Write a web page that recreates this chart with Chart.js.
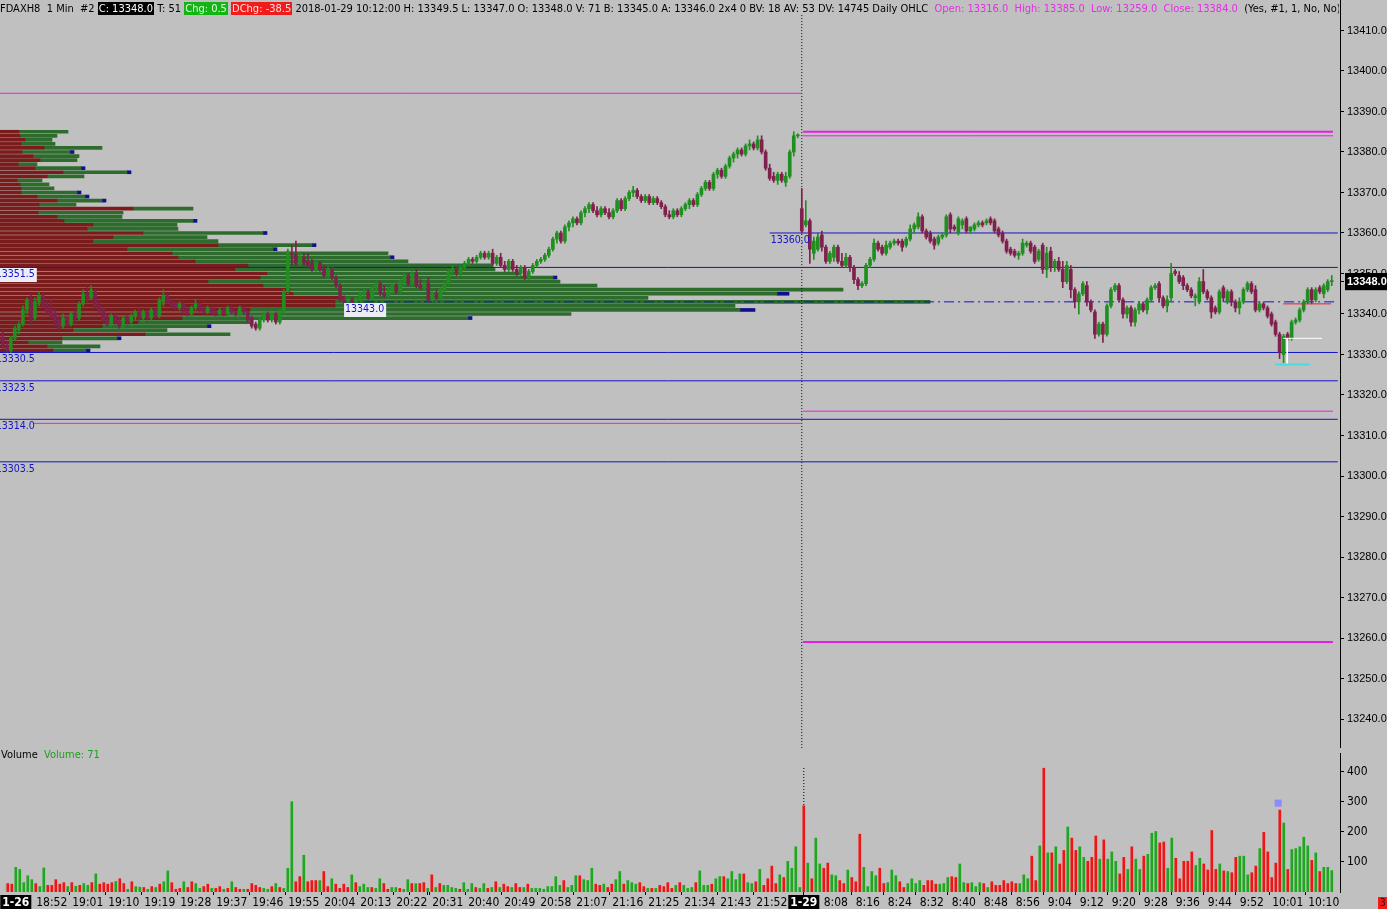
<!DOCTYPE html>
<html>
<head>
<meta charset="utf-8">
<script src="https://cdn.jsdelivr.net/npm/chart.js@4.4.1/dist/chart.umd.min.js"></script>
<style>
  html, body { margin: 0; padding: 0; background: #c0c0c0; width: 1387px; height: 909px; overflow: hidden; position: relative; }
  canvas { position: absolute; left: 0; }
  #profile { top: 0; z-index: 1; }
  #price { top: 0; z-index: 2; }
  #volume { top: 748px; z-index: 2; }
  .txt { position: absolute; z-index: 3; white-space: pre; font: 11px 'Liberation Sans Narrow', 'DejaVu Sans Condensed', sans-serif; line-height: 14px; color: #000; }
  #head { left: 0; top: 2px; width: 1339px; overflow: hidden; }
  #head .k { background: #000; color: #fff; padding: 0 1px; }
  #head .g { background: #14b414; color: #dfffdf; padding: 0 1px; }
  #head .r { background: #f01c1c; color: #ffe0e0; padding: 0 1px; }
  #head .m { color: #e62ee6; }
  #vlabel { left: 1px; top: 748px; }
  #vlabel .g { color: #1e9e1e; }
  #corner { left: 1378px; top: 897px; width: 9px; height: 12px; background: #f01c1c; color: #400; font-size: 10px; line-height: 12px; text-align: center; }
</style>
</head>
<body>
<canvas id="profile" width="1340" height="748"></canvas>
<canvas id="price" width="1387" height="748"></canvas>
<canvas id="volume" width="1387" height="161"></canvas>
<div id="head" class="txt"></div>
<div id="vlabel" class="txt"></div>
<div id="corner" class="txt">3</div>
<script>
'use strict';

// FDAXH8, barras de 1 minuto: 1-26 18:40 -> 21:59 (0..199), 1-29 8:00 -> 10:12 (200..332)
// [open, high, low, close]
const bars = [
  [13335,13336,13333,13333.5],[13334,13335.5,13331.5,13332],[13332,13333,13330.5,13331],[13331,13334.5,13330.5,13334],
  [13334,13337,13333.5,13336.5],[13336,13338,13335,13337.5],[13337.5,13342,13337,13341],[13341,13344,13340,13343.5],
  [13343.5,13345,13338,13339],[13339,13344,13338.5,13343],[13343,13345.5,13342,13344.5],[13344.5,13345,13341.5,13342],
  [13342,13343,13340,13340.5],[13341,13343.5,13339,13339.5],[13340,13341,13337,13338],[13338.5,13339.5,13336,13336.5],
  [13337,13340,13336.5,13339],[13339,13339.5,13337,13337.5],[13337.5,13340.5,13337,13340],[13340,13341,13338,13339],
  [13339,13343,13338.5,13342.5],[13342.5,13346,13342,13345],[13345,13346.5,13343,13344],[13344,13347,13343.5,13346],
  [13345.5,13346,13341.5,13342],[13342,13343,13340,13341],[13341,13341.5,13338,13338.5],[13338.5,13340,13337,13337.5],
  [13337.5,13340,13337,13339.5],[13339.5,13340,13337.5,13338],[13338,13339,13336.5,13337],[13337,13339.5,13336.5,13339],
  [13339,13339.5,13337.5,13338],[13338,13340,13337,13339.5],[13339.5,13341,13338.5,13340.5],[13340.5,13341.5,13338.5,13339],
  [13339,13341,13338,13340.5],[13340.5,13341,13338.5,13339],[13339,13341.5,13338.5,13341],[13341,13341.5,13339,13339.5],
  [13339.5,13344,13339,13343.5],[13343,13346,13342,13344.5],[13344.5,13345,13342.5,13343],[13343,13343.5,13341.5,13342],
  [13342.5,13343,13341,13341.5],[13341.5,13343,13341,13342.5],[13342.5,13343,13340,13340.5],[13340.5,13341.5,13339.5,13340],
  [13340,13342,13339.5,13341.5],[13341.5,13343.5,13341,13342.5],[13342.5,13343,13340.5,13341],[13341,13342,13340,13340.5],
  [13340.5,13342,13340,13341.5],[13341.5,13342,13340,13340.5],[13340.5,13341.5,13339.5,13340],[13340,13341.5,13339.5,13341],
  [13341,13341.5,13339.5,13340],[13340,13342,13339.5,13341.5],[13341.5,13342,13340,13340.5],[13340.5,13341,13339.5,13340],
  [13340,13342,13339.5,13341.5],[13341.5,13342,13340,13340.5],[13340.5,13341,13338,13338.5],[13339,13339.5,13336.5,13337],
  [13337.5,13338,13336,13336.5],[13336.5,13339,13336,13338.5],[13338.5,13340.5,13338,13340],[13340,13340.5,13338,13338.5],
  [13338.5,13340.5,13338,13340],[13340,13340.5,13337.5,13338],[13338,13341,13337.5,13340.5],[13340.5,13346,13340,13345.5],
  [13345.5,13356,13345,13355.5],[13355,13357,13352,13354.5],[13354.5,13358,13352,13352.5],[13352.5,13355,13352,13354],
  [13354,13355,13352,13352.5],[13353,13355,13351.5,13352],[13352.5,13353.5,13350.5,13351],[13351,13353,13350.5,13352.5],
  [13352.5,13353,13350.5,13351],[13351,13352,13349,13349.5],[13349.5,13351.5,13349,13351],[13351,13351.5,13348.5,13349],
  [13349,13349.5,13346.5,13347],[13347,13347.5,13343,13343.5],[13343.5,13344.5,13342.5,13343],[13343,13344,13342.5,13343.5],
  [13343.5,13344,13342.5,13343],[13343,13344,13342.5,13343.5],[13343.5,13345.5,13343,13345],[13345,13346,13344,13345.5],
  [13345.5,13346,13343.5,13344],[13344,13347,13343.5,13346.5],[13346.5,13348,13345.5,13347.5],[13347.5,13348,13344.5,13345],
  [13345,13347,13344,13344.5],[13344.5,13346.5,13344,13346],[13346,13347.5,13345,13347],[13347,13347.5,13345,13345.5],
  [13345.5,13348.5,13345,13348],[13348,13350,13347,13349.5],[13349.5,13350,13347,13347.5],[13347.5,13350.5,13347,13350],
  [13350,13351,13346.5,13347],[13347,13348.5,13346,13346.5],[13346.5,13348,13346,13347.5],[13347.5,13349,13343,13343.5],
  [13343.5,13345.5,13343,13345],[13345,13346,13343.5,13344],[13344,13346.5,13343.5,13346],[13346,13348,13345.5,13347.5],
  [13347.5,13351,13347,13350.5],[13350.5,13352,13349.5,13351],[13351,13351.5,13349.5,13350],[13350,13352,13349.5,13351.5],
  [13351.5,13353,13351,13352.5],[13352.5,13354,13352,13353.5],[13353.5,13354,13352.5,13353],[13353,13354.5,13352.5,13354],
  [13354,13355.5,13353.5,13355],[13355,13355.5,13353.5,13354],[13354,13355.5,13353.5,13355],[13355,13356,13352,13352.5],
  [13352.5,13354.5,13352,13354],[13354,13355,13351.5,13352],[13352,13353,13350.5,13351],[13351,13353.5,13350.5,13353],
  [13353,13353.5,13350.5,13351],[13351,13352,13349.5,13350],[13350,13352,13349.5,13351.5],[13351.5,13352,13348.5,13349],
  [13349,13351,13348.5,13350.5],[13350.5,13352.5,13350,13352],[13352,13353.5,13351.5,13353],[13353,13354,13352.5,13353.5],
  [13353.5,13355,13353,13354.5],[13354.5,13356.5,13354,13356],[13356,13359,13355.5,13358.5],[13358.5,13360.5,13357.5,13360],
  [13360,13360.5,13357.5,13358],[13358,13362,13357.5,13361.5],[13361.5,13363,13360.5,13362.5],[13362.5,13364,13361.5,13363.5],
  [13363.5,13364,13362,13362.5],[13362.5,13365.5,13362,13365],[13365,13366.5,13364,13366],[13366,13367.5,13365,13367],
  [13367,13367.5,13365,13365.5],[13365.5,13366.5,13364,13364.5],[13364.5,13366.5,13364,13366],[13366,13366.5,13364.5,13365],
  [13365,13366,13363.5,13364],[13364,13366,13363.5,13365.5],[13365.5,13368.5,13365,13368],[13368,13368.5,13365.5,13366],
  [13366,13369,13365.5,13368.5],[13368.5,13370.5,13368,13370],[13370,13371.5,13369,13370.5],[13370.5,13371,13368.5,13369],
  [13369,13369.5,13367.5,13368],[13368,13369.5,13367.5,13369],[13369,13369.5,13367,13367.5],[13367.5,13369,13367,13368.5],
  [13368.5,13369,13367,13367.5],[13367.5,13368,13366,13366.5],[13366.5,13367,13364,13364.5],[13364.5,13365.5,13363.5,13364],
  [13364,13366,13363.5,13365.5],[13365.5,13366,13364,13364.5],[13364.5,13366.5,13364,13366],[13366,13367.5,13365.5,13367],
  [13367,13368.5,13366,13368],[13368,13368.5,13366.5,13367],[13367,13370,13366.5,13369.5],[13369.5,13371.5,13369,13371],
  [13371,13373,13370.5,13372.5],[13372.5,13373,13370.5,13371],[13371,13375,13370.5,13374.5],[13374.5,13376,13373.5,13375.5],
  [13375.5,13376,13373.5,13374],[13374,13377,13373.5,13376.5],[13376.5,13379,13376,13378.5],[13378.5,13380,13377.5,13379.5],
  [13379.5,13381,13378.5,13380.5],[13380.5,13381,13379,13379.5],[13379.5,13382,13379,13381.5],[13381.5,13383,13380.5,13382],
  [13382,13382.5,13380.5,13381],[13381,13384,13380.5,13383],[13383,13384,13379.5,13380],[13380,13380.5,13375.5,13376],
  [13376,13377,13373,13373.5],[13374,13375,13372.5,13373],[13373,13375,13372,13374.5],[13374.5,13375,13372.5,13373],
  [13372.5,13375,13371.5,13374],[13374,13380.5,13373.5,13380],[13380,13385,13379,13384],[13384,13384.5,13383.5,13384],
  // 1-29
  [13366,13371,13360,13360.5],[13362,13368,13361.5,13363],[13363,13363.5,13352.5,13356],[13355,13359,13353.5,13358],
  [13356,13360,13355.5,13359],[13359.5,13360.5,13355.5,13356.5],[13356.5,13357,13352.5,13353],[13353,13355.5,13352.5,13355],
  [13354,13357,13353,13356.5],[13356.5,13357,13352.5,13353],[13353,13355,13351.5,13352],[13352,13355,13351.5,13354],
  [13354,13354.5,13350.5,13351.5],[13351.5,13352,13347.5,13348.5],[13348.5,13349,13346,13347],[13347,13348,13346.5,13347.5],
  [13347.5,13352.5,13347,13352],[13352,13354,13351.5,13353.5],[13353.5,13358.5,13353,13357.5],[13357.5,13358,13355.5,13356],
  [13356.5,13357,13354.5,13355],[13355,13358,13354.5,13357],[13356.5,13358,13356,13357.5],[13357.5,13358.5,13357,13358],
  [13358,13358.5,13357,13357.5],[13358,13358.5,13355.5,13356.5],[13357,13359,13356.5,13358.5],[13358.5,13362,13358,13361],
  [13361,13362.5,13360,13362],[13361.5,13365,13361,13364],[13364,13364.5,13360,13360.5],[13360.5,13361,13358.5,13359],
  [13360,13360.5,13357.5,13358],[13358.5,13359,13356,13357],[13357.5,13359.5,13357,13359],[13359,13360,13358.5,13359.5],
  [13359.5,13364.5,13359,13364],[13364.5,13365,13360,13361],[13361.5,13362,13360.5,13361],[13360,13364,13359.5,13363.5],
  [13362,13363.5,13361,13363],[13363.5,13364,13360,13360.5],[13360.5,13361.5,13360,13361.5],[13361,13362.5,13360.5,13362],
  [13362,13363,13361.5,13362.5],[13362.5,13363,13361.5,13362],[13362.5,13363.5,13362,13363],[13363.5,13364,13362,13362.5],
  [13363,13363.5,13360,13360.5],[13361,13361.5,13359,13359.5],[13360,13360.5,13357.5,13358],[13358,13358.5,13355,13355.5],
  [13356,13356.5,13354.5,13355],[13355.5,13356,13354,13354.5],[13354.5,13355.5,13353.5,13355],[13355,13358.5,13354.5,13357.5],
  [13357,13358,13356.5,13357.5],[13357.5,13358,13355,13355.5],[13356.5,13357,13352.5,13353],[13353.5,13356,13353,13355.5],
  [13357,13357.5,13350,13351],[13351,13356.5,13349,13355],[13355.5,13356.5,13350.5,13351.5],[13351.5,13353.5,13350.5,13353],
  [13353,13354,13350.5,13351],[13351,13353,13346.5,13348],[13348,13353,13347.5,13352],[13351,13352,13344,13346],
  [13346,13346.5,13341.5,13343],[13343,13345.5,13340,13345],[13345,13348,13344.5,13347.5],[13347,13348,13342,13343],
  [13343,13343.5,13340.5,13341],[13340.5,13341,13334,13335],[13335,13338,13334.5,13337.5],[13337.5,13338,13333,13335],
  [13335,13342.5,13334.5,13342],[13342,13346.5,13341.5,13346],[13346,13347.5,13345.5,13347],[13347,13347.5,13343,13343.5],
  [13343.5,13344,13339,13340],[13340,13342,13339,13341.5],[13341.5,13342,13337,13338],[13338,13341.5,13337,13341],
  [13341,13343,13340,13342.5],[13342.5,13343,13340.5,13341],[13341,13344,13340,13343.5],[13343.5,13347,13343,13346.5],
  [13346.5,13347.5,13346,13347],[13347.5,13348,13343,13344],[13344,13344.5,13341.5,13342],[13342,13344.5,13340.5,13343.5],
  [13344,13352.5,13343,13350],[13350.5,13351,13349.5,13350],[13349.5,13350.5,13347.5,13348],[13349,13349.5,13346,13347],
  [13347,13347.5,13345.5,13346],[13346,13346.5,13344,13344.5],[13344,13345,13342,13344.5],[13343,13349,13342.5,13348],
  [13348,13351,13345,13345.5],[13345.5,13346,13343.5,13344],[13344,13344.5,13339,13340.5],[13341.5,13342,13340,13340.5],
  [13340.5,13346,13340,13345.5],[13346.5,13347,13343,13344],[13343,13346,13342.5,13345.5],[13345.5,13346,13342,13343],
  [13343,13343.5,13340.5,13341.5],[13341.5,13344,13340,13343],[13343,13346.5,13342.5,13346],[13346,13348,13345.5,13347.5],
  [13347.5,13348,13345,13345.5],[13346,13347,13340.5,13341],[13341,13343,13340.5,13342.5],[13342.5,13343,13341,13341.5],
  [13341.5,13342,13339,13339.5],[13340,13340.5,13337,13337.5],[13338,13338.5,13334.5,13335],[13335,13335.5,13329,13330.5],
  [13330,13335,13328,13334.5],[13335,13335.5,13333.5,13334],[13334,13338.5,13333.5,13338],[13338,13339,13337.5,13338.5],
  [13338.5,13341.5,13338,13341],[13341,13343.5,13340.5,13343],[13343,13346.5,13342.5,13346],[13346,13346.5,13342.5,13343.5],
  [13343.5,13346.5,13343,13346],[13346.5,13347,13345,13345.5],[13345,13347.5,13344,13347],[13346,13348.5,13345.5,13348],
  [13348,13349.5,13347,13348]
];

const volumes = [
  25, 28, 26, 82, 75, 31, 54, 41, 28, 18, 80, 22, 22, 41, 26, 31, 18, 31, 19, 22, 28,
  22, 31, 60, 26, 31, 26, 31, 35, 44, 28, 9, 34, 18, 16, 15, 9, 18, 15, 26, 34,
  70, 31, 9, 12, 34, 15, 34, 28, 12, 18, 26, 12, 12, 18, 9, 12, 34, 15, 9, 9,
  9, 28, 22, 15, 12, 9, 18, 28, 15, 12, 79, 300, 34, 51, 122, 34, 38, 38, 38, 68,
  18, 44, 26, 12, 26, 15, 57, 31, 18, 26, 15, 15, 12, 44, 28, 9, 15, 15, 12, 9,
  41, 28, 28, 28, 31, 12, 57, 15, 28, 22, 22, 15, 12, 9, 31, 9, 28, 15, 12, 28,
  12, 15, 34, 15, 26, 18, 15, 28, 15, 15, 26, 12, 12, 12, 9, 18, 18, 51, 22, 38,
  15, 22, 54, 54, 41, 38, 79, 26, 22, 26, 15, 26, 41, 68, 26, 38, 31, 26, 31, 18,
  12, 12, 12, 22, 18, 31, 12, 22, 31, 22, 12, 15, 31, 70,
  22, 22, 26, 44, 51, 51, 44, 68, 41, 60, 60, 31, 28, 34, 75, 22, 44, 86, 28, 57, 48, 102, 79, 150, 15,
  286, 96, 44, 179, 93, 79, 96, 57, 54, 38, 28, 73, 48, 34, 192, 82, 18, 68, 54, 79,
  28, 31, 73, 54, 34, 15, 28, 44, 28, 38, 22, 38, 38, 26, 26, 28, 48, 51, 48, 93,
  31, 28, 31, 18, 31, 28, 15, 34, 22, 22, 38, 28, 34, 28, 28, 57, 44, 119, 38, 153,
  411, 130, 130, 150, 93, 138, 216, 179, 138, 150, 115, 102, 115, 186, 109, 173, 109, 133, 102, 60,
  115, 75, 150, 109, 75, 119, 125, 195, 201, 163, 166, 79, 179, 112, 44, 102, 102, 133, 88, 112,
  93, 73, 204, 75, 93, 70, 68, 64, 115, 119, 119, 57, 64, 86, 144, 198, 133, 48, 96, 272,
  229, 75, 141, 144, 150, 182, 153, 105, 130, 68, 82, 82, 71
];

const sessionBreak = 200;
const timeTickIdx = [12, 21, 30, 39, 48, 57, 66, 75, 84, 93, 102, 111, 120, 129, 138, 147, 156, 165, 174, 183, 192,
  208, 216, 224, 232, 240, 248, 256, 264, 272, 280, 288, 296, 304, 312, 321, 330];
const timeTickLabels = ['18:52', '19:01', '19:10', '19:19', '19:28', '19:37', '19:46', '19:55', '20:04', '20:13', '20:22',
  '20:31', '20:40', '20:49', '20:58', '21:07', '21:16', '21:25', '21:34', '21:43', '21:52',
  '8:08', '8:16', '8:24', '8:32', '8:40', '8:48', '8:56', '9:04', '9:12', '9:20', '9:28', '9:36', '9:44', '9:52', '10:01', '10:10'];
const dateTickIdx = [3, 200];
const dateTickLabels = ['1-26', '1-29'];

const priceTicks = [13240, 13250, 13260, 13270, 13280, 13290, 13300, 13310, 13320, 13330,
  13340, 13350, 13360, 13370, 13380, 13390, 13400, 13410];
const volumeTicks = [100, 200, 300, 400];
const lastClose = 13348.0;

// niveles azules (con etiqueta) y la barra desde la que arrancan
const levelPrices = [13360.0, 13351.5, 13343.0, 13330.5, 13323.5, 13314.0, 13303.5];
const levelStart = [192, -1, 86, -1, -1, -1, -1];
// niveles magenta de la sesión anterior
const priorPrices = [13394.5, 13313.0];
const priorStart = [-1, 8.5];
// OHLC diario (se dibuja en la sesión del 1-29)
const dailyNames = ['Open', 'High', 'Low', 'Close'];
const dailyValues = [13316.0, 13385.0, 13259.0, 13384.0];

// perfil de volumen de la sesión 1-26 (por punto): venta (rojo), compra (verde), marca azul
const profilePrices = [13385, 13384, 13383, 13382, 13381, 13380, 13379, 13378, 13377, 13376, 13375, 13374, 13373, 13372,
  13371, 13370, 13369, 13368, 13367, 13366, 13365, 13364, 13363, 13362, 13361, 13360, 13359, 13358, 13357, 13356,
  13355, 13354, 13353, 13352, 13351, 13350, 13349, 13348, 13347, 13346, 13345, 13344, 13343, 13342, 13341, 13340,
  13339, 13338, 13337, 13336, 13335, 13334, 13333, 13332, 13331];
const profileSell = [38, 40, 50, 42, 88, 44, 66, 80, 36, 70, 126, 94, 34, 40, 42, 42, 74, 114, 78, 266, 76, 114, 128, 186,
  174, 286, 226, 186, 436, 254, 344, 356, 390, 496, 470, 534, 520, 416, 526, 580, 586, 686, 670, 670, 500, 454, 364,
  276, 204, 146, 290, 124, 56, 94, 106];
const profileBuy = [98, 74, 54, 68, 116, 96, 92, 74, 38, 92, 128, 74, 50, 58, 66, 112, 96, 90, 74, 120, 170, 130, 258, 168,
  182, 240, 188, 250, 188, 292, 432, 424, 426, 490, 520, 506, 586, 704, 668, 1106, 968, 610, 1190, 800, 980, 688, 572,
  224, 210, 188, 170, 110, 68, 106, 66];
const profileMark = [0, 0, 0, 0, 0, 8, 0, 0, 0, 8, 8, 0, 0, 0, 0, 8, 8, 8, 0, 0, 0, 0, 8, 0,
  0, 8, 0, 0, 8, 8, 0, 8, 0, 0, 0, 0, 8, 0, 0, 0, 24, 0, 0, 0, 30, 0, 8,
  0, 8, 0, 0, 8, 0, 0, 8];

// marcas del mínimo de la mañana
const markLevels = [13334.0, 13327.5, 13342.5];
const markFrom = [319.9, 317.9, 319.9];
const markTo = [329.6, 326.6, 331.8];
const markStem = 320.9;
const volMarkBar = 318.6;
const volMarkValue = 295;

// --- estilo -----------------------------------------------------------
const UP = '#1f8f1f';
const DOWN = '#80204c';
const VOL_UP = '#1fa81f';
const VOL_DOWN = '#f01414';
const BLUE = '#1212c8';
const MAGENTA = '#e81ee8';
const X_MIN = 0.3;
const X_MAX = 334.05;
const Y_MIN = 13232.84;
const Y_MAX = 13417.53;
const LINE_END = 333.5;
const NARROW = "'Liberation Sans Narrow', 'DejaVu Sans Condensed', sans-serif";

const isUp = (i) => bars[i][3] >= bars[i][0];

// fija el tamaño del eje y quita el relleno que Chart.js añade para las etiquetas
function pinAxis(size) {
  return (scale) => {
    if (scale.isHorizontal()) {
      scale.height = size;
      scale.paddingLeft = 0;
      scale.paddingRight = 0;
    } else {
      scale.width = size;
      scale.paddingTop = 0;
      scale.paddingBottom = 0;
    }
  };
}

function hline(price, from, to, color, width, dash) {
  return {
    type: 'line',
    data: [{ x: from, y: price }, { x: to, y: price }],
    borderColor: color,
    borderWidth: width,
    borderDash: dash || [],
    pointRadius: 0,
    order: 5,
  };
}

const axisGrid = { display: true, drawOnChartArea: false, drawTicks: true, tickLength: 4, color: '#000' };

// --- perfil de volumen -------------------------------------------------
const profileCommon = { barThickness: 3, grouped: false, borderWidth: 0 };
new Chart(document.getElementById('profile'), {
  type: 'bar',
  data: {
    datasets: [
      {
        ...profileCommon,
        data: profilePrices.map((p, k) => ({ y: p, x: [0, profileSell[k]] })),
        backgroundColor: '#7a1c1c',
      },
      {
        ...profileCommon,
        data: profilePrices.map((p, k) => ({ y: p, x: [profileSell[k], profileSell[k] + profileBuy[k]] })),
        backgroundColor: '#2e6c2e',
      },
      {
        ...profileCommon,
        data: profilePrices
          .map((p, k) => ({ y: p, x: [profileSell[k] + profileBuy[k], profileSell[k] + profileBuy[k] + profileMark[k]] }))
          .filter((d, k) => profileMark[k] > 0),
        backgroundColor: '#10108c',
      },
    ],
  },
  options: {
    indexAxis: 'y',
    responsive: false,
    animation: false,
    events: [],
    layout: { padding: 0 },
    plugins: { legend: { display: false }, tooltip: { enabled: false } },
    scales: {
      x: { type: 'linear', display: false, min: 0, max: 2680 },
      y: { type: 'linear', display: false, min: Y_MIN, max: Y_MAX, offset: false },
    },
  },
});

// --- precio ---------------------------------------------------------------
const levelLabels = {
  id: 'levelLabels',
  afterDatasetsDraw(chart) {
    const { ctx, scales: { x, y } } = chart;
    ctx.save();
    ctx.font = "10.5px 'DejaVu Sans Condensed', sans-serif";
    ctx.textBaseline = 'top';
    levelPrices.forEach((p, k) => {
      const text = p.toFixed(1);
      const px = x.getPixelForValue(levelStart[k]) + 1;
      const py = Math.round(y.getPixelForValue(p)) + 1;
      if (k === 1 || k === 2) {
        ctx.fillStyle = '#ececf4';
        ctx.fillRect(px - 1, py, ctx.measureText(text).width + 3, 14);
      }
      ctx.fillStyle = BLUE;
      ctx.fillText(text, px, py + 1);
    });
    ctx.restore();
  },
};

const priceDatasets = [
  {
    data: bars.map((b, i) => ({ x: i, y: [b[2], b[1]] })),
    backgroundColor: (c) => (isUp(c.dataIndex) ? UP : DOWN),
    barThickness: 1,
    grouped: false,
    order: 1,
  },
  {
    data: bars.map((b, i) => ({ x: i, y: [b[0], b[3]] })),
    backgroundColor: (c) => (isUp(c.dataIndex) ? UP : DOWN),
    barThickness: 3,
    minBarLength: 1,
    grouped: false,
    order: 0,
  },
  {
    type: 'line',
    data: [{ x: sessionBreak, y: 13413.8 }, { x: sessionBreak, y: Y_MIN }],
    borderColor: '#000',
    borderWidth: 1,
    borderDash: [1, 2],
    pointRadius: 0,
    order: 6,
  },
];
levelPrices.forEach((p, k) => {
  priceDatasets.push(hline(p, levelStart[k], LINE_END, BLUE, 1, k === 2 ? [10, 4, 2, 4] : null));
});
priorPrices.forEach((p, k) => priceDatasets.push(hline(p, priorStart[k], sessionBreak, MAGENTA, 1)));
dailyValues.forEach((v, k) => {
  const thick = dailyNames[k] === 'High' || dailyNames[k] === 'Low';
  priceDatasets.push(hline(v, sessionBreak + 0.3, 332.3, MAGENTA, thick ? 2 : 1));
});
const markColors = ['#ffffff', '#40e0e0', '#e82020'];
markLevels.forEach((p, k) => priceDatasets.push({ ...hline(p, markFrom[k], markTo[k], markColors[k], k === 1 ? 2 : 1), order: -1 }));
priceDatasets.push({
  type: 'line',
  data: [{ x: markStem, y: markLevels[0] }, { x: markStem, y: markLevels[1] }],
  borderColor: '#ffffff',
  borderWidth: 1,
  pointRadius: 0,
  order: -1,
});

new Chart(document.getElementById('price'), {
  type: 'bar',
  data: { datasets: priceDatasets },
  options: {
    responsive: false,
    animation: false,
    events: [],
    layout: { padding: 0 },
    plugins: { legend: { display: false }, tooltip: { enabled: false } },
    scales: {
      x: { type: 'linear', display: false, min: X_MIN, max: X_MAX, offset: false },
      y: {
        type: 'linear',
        position: 'right',
        min: Y_MIN,
        max: Y_MAX,
        afterBuildTicks: (s) => {
          s.ticks = priceTicks.map((v) => ({ value: v })).concat([{ value: lastClose }]);
        },
        afterFit: pinAxis(47),
        grid: axisGrid,
        border: { display: true, color: '#000' },
        ticks: {
          autoSkip: false,
          padding: 3,
          callback: (v) => Number(v).toFixed(1),
          color: (c) => (c.tick && c.tick.value === lastClose ? '#fff' : '#000'),
          font: (c) => ({
            family: "'Liberation Sans', Arial, sans-serif",
            size: 11,
            weight: c.tick && c.tick.value === lastClose ? 'bold' : 'normal',
          }),
          showLabelBackdrop: (c) => !!(c.tick && c.tick.value === lastClose),
          backdropColor: '#000',
          backdropPadding: { left: 2, right: 4, top: 2, bottom: 2 },
        },
      },
    },
  },
  plugins: [levelLabels],
});

// --- volumen ----------------------------------------------------------------
const allTickIdx = dateTickIdx.concat(timeTickIdx);
const allTickLabels = dateTickLabels.concat(timeTickLabels);
const isDateTick = (c) => !!(c.tick && dateTickIdx.includes(c.tick.value));

new Chart(document.getElementById('volume'), {
  type: 'bar',
  data: {
    datasets: [
      {
        data: volumes.map((v, i) => ({ x: i, y: v })),
        backgroundColor: (c) => (isUp(c.dataIndex) ? VOL_UP : VOL_DOWN),
        barThickness: 2,
        grouped: false,
        order: 1,
      },
      {
        type: 'line',
        data: [{ x: sessionBreak, y: 0 }, { x: sessionBreak, y: 417 }],
        borderColor: '#000',
        borderWidth: 1,
        borderDash: [1, 2],
        pointRadius: 0,
        order: 2,
      },
      {
        type: 'scatter',
        data: [{ x: volMarkBar, y: volMarkValue }],
        pointStyle: 'rect',
        pointRadius: 5,
        backgroundColor: '#8c8cff',
        borderWidth: 0,
        order: 0,
      },
    ],
  },
  options: {
    responsive: false,
    animation: false,
    events: [],
    layout: { padding: 0 },
    plugins: { legend: { display: false }, tooltip: { enabled: false } },
    scales: {
      x: {
        type: 'linear',
        min: X_MIN,
        max: X_MAX,
        offset: false,
        afterBuildTicks: (s) => {
          s.ticks = allTickIdx.map((v) => ({ value: v }));
        },
        afterFit: pinAxis(17),
        grid: { ...axisGrid, tickLength: 3 },
        border: { display: false },
        ticks: {
          autoSkip: false,
          maxRotation: 0,
          padding: 1,
          callback: (v) => allTickLabels[allTickIdx.indexOf(v)],
          color: (c) => (isDateTick(c) ? '#fff' : '#000'),
          font: (c) => ({ family: NARROW, size: 12, weight: isDateTick(c) ? 'bold' : 'normal' }),
          showLabelBackdrop: isDateTick,
          backdropColor: '#000',
          backdropPadding: { left: 2, right: 2, top: 1, bottom: 3 },
        },
      },
      y: {
        type: 'linear',
        position: 'right',
        min: 0,
        max: 461.5,
        afterBuildTicks: (s) => {
          s.ticks = volumeTicks.map((v) => ({ value: v }));
        },
        afterFit: pinAxis(47),
        grid: axisGrid,
        border: { display: true, color: '#000' },
        ticks: { autoSkip: false, padding: 3, color: '#000', font: { family: NARROW, size: 12 } },
      },
    },
  },
});

// --- textos -----------------------------------------------------------------
const last = bars[bars.length - 1];
document.getElementById('head').innerHTML =
  'FDAXH8  1 Min  #2 <span class="k">C: ' + last[3].toFixed(1) + '</span> T: 51 ' +
  '<span class="g">Chg: 0.5</span> <span class="r">DChg: -38.5</span> ' +
  '2018-01-29 10:12:00 H: ' + last[1].toFixed(1) + ' L: ' + last[2].toFixed(1) + ' O: ' + last[0].toFixed(1) +
  ' V: ' + volumes[volumes.length - 1] + ' B: 13345.0 A: 13346.0 2x4 0 BV: 18 AV: 53 DV: 14745 Daily OHLC  ' +
  '<span class="m">' + dailyNames.map((n, k) => n + ': ' + dailyValues[k].toFixed(1)).join('  ') + '</span>' +
  '  (Yes, #1, 1, No, No)';
document.getElementById('vlabel').innerHTML =
  'Volume  <span class="g">Volume: ' + volumes[volumes.length - 1] + '</span>';
</script>
</body>
</html>
